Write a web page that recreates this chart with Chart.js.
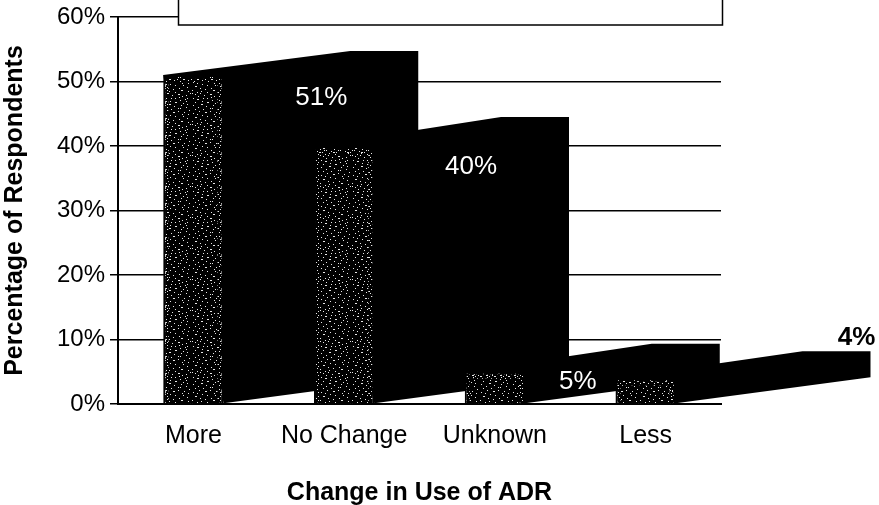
<!DOCTYPE html>
<html>
<head>
<meta charset="utf-8">
<style>
  html, body { margin: 0; padding: 0; background: #fff; }
  #wrap { position: relative; width: 879px; height: 505px; overflow: hidden; }
</style>
<script src="https://cdn.jsdelivr.net/npm/chart.js@4"></script>
</head>
<body>
<div id="wrap"><canvas id="chart" width="879" height="505"></canvas></div>
<script>
const categories = ['More', 'No Change', 'Unknown', 'Less'];
const shares = [51, 40, 5, 4];
const valueTicks = [0, 10, 20, 30, 40, 50, 60];

const FONT = '"Liberation Sans", Arial, sans-serif';

// Hand-laid irregular tiles for the stippled bar fronts: sparse body, busier rim.
const stippleRows = [
  '#.......#.....................#.',
  '...#..............##...........',
  '............#.............#....',
  '......#...............#........',
  '...................#...........',
  '.#.........#...#...........#...',
  '.....##..................#.....',
  '....................#..........',
  '..........#...............#....',
  '...#...........##..............',
  '.......................#.......',
  '.........##................#...',
  '.#...................#.........',
  '..............#................',
  '......#...................#....',
  '..................#.#..........',
  '...#.......#...................',
  '.............................#.',
  '.......#..........#............',
  '.............##.........#......',
  '.#.............................',
  '.....#................#.....#..',
  '..........#....................',
  '...............#.......#.......',
  '...##..........................',
  '...........................#...',
  '........#..........#...........',
  '.............#.................',
  '#....................##........',
  '.........#..................#..',
  '.....#.........#...............'
];
const rimRows = [
  '#......#...#..',
  '..#.......##..',
  '....##.......#',
  '...........#..',
  '.#....#.......',
  '..........#..#',
  '...#..........',
  '.......##.....',
  '#............#',
  '....#.....#...',
  '..............',
  '.##......#....',
  '......#.......',
  '............#.',
  '..#.#.........',
  '.........#....',
  '#..........##.'
];

function tilePattern(rows) {
  const tile = document.createElement('canvas');
  tile.width = rows[0].length;
  tile.height = rows.length;
  const g = tile.getContext('2d');
  g.fillStyle = '#000';
  g.fillRect(0, 0, tile.width, tile.height);
  g.fillStyle = '#e6e6e6';
  rows.forEach((row, y) => {
    [...row].forEach((c, x) => { if (c === '#') g.fillRect(x, y, 1, 1); });
  });
  return g.createPattern(tile, 'repeat');
}

const bodyPattern = tilePattern(stippleRows);
const rimPattern = tilePattern(rimRows);

// Slanted black extrusion behind each bar, derived from the bar's own geometry.
const RUN_TOP = 187;
const RUN_FULL = 255;
const topRise = [24, 29, 28, 27];
const baseRise = 26;

const extrusion = {
  id: 'extrusion',
  beforeDatasetsDraw(chart) {
    const { ctx } = chart;
    const bars = chart.getDatasetMeta(0).data;
    ctx.save();
    ctx.fillStyle = '#000';
    bars.forEach((b, i) => {
      const left = b.x - b.width / 2;
      const right = b.x + b.width / 2;
      ctx.beginPath();
      ctx.moveTo(left, b.y);
      ctx.lineTo(left + RUN_TOP, b.y - topRise[i]);
      ctx.lineTo(left + RUN_FULL, b.y - topRise[i]);
      ctx.lineTo(left + RUN_FULL, b.base - baseRise);
      ctx.lineTo(right, b.base);
      ctx.closePath();
      ctx.fill();
    });
    ctx.restore();
  }
};

// Busier stipple along the rim of each bar front, then the value labels.
const labelOffsets = [[128, 23], [127, 21], [83, 10], [211, -40]];
const labelColours = ['#fff', '#fff', '#fff', '#000'];
const barDetails = {
  id: 'barDetails',
  afterDatasetsDraw(chart) {
    const { ctx } = chart;
    const bars = chart.getDatasetMeta(0).data;
    ctx.save();
    bars.forEach(b => {
      const left = b.x - b.width / 2;
      const right = b.x + b.width / 2;
      const height = b.base - b.y;
      ctx.fillStyle = rimPattern;
      ctx.fillRect(right - 6, b.y + 3, 4, height - 4);
      ctx.fillRect(left + 2, b.y + 3, 3, height - 4);
      ctx.fillRect(left + 3, b.y + 3, b.width - 6, 4);
    });
    ctx.textAlign = 'center';
    ctx.textBaseline = 'middle';
    bars.forEach((b, i) => {
      ctx.font = (i === 3 ? 'bold ' : '') + '26px ' + FONT;
      ctx.fillStyle = labelColours[i];
      ctx.fillText(shares[i] + '%', b.x + labelOffsets[i][0], b.y + labelOffsets[i][1]);
    });
    ctx.restore();
  }
};

// Legend frame running off the top of the page.
const legendFrame = {
  id: 'legendFrame',
  afterDraw(chart) {
    const { ctx, chartArea } = chart;
    ctx.save();
    ctx.fillStyle = '#fff';
    ctx.strokeStyle = '#000';
    ctx.lineWidth = 1.5;
    ctx.beginPath();
    ctx.rect(178.5, -10, chartArea.right - 177, 35);
    ctx.fill();
    ctx.stroke();
    ctx.restore();
  }
};

new Chart(document.getElementById('chart'), {
  type: 'bar',
  data: {
    labels: categories,
    datasets: [{
      data: shares,
      backgroundColor: bodyPattern,
      borderColor: '#000',
      borderWidth: 2,
      barPercentage: 0.4,
      categoryPercentage: 1
    }]
  },
  plugins: [extrusion, barDetails, legendFrame],
  options: {
    responsive: false,
    animation: false,
    layout: { padding: { top: 17, right: 158, left: 0, bottom: 0 } },
    plugins: { legend: { display: false }, tooltip: { enabled: false } },
    scales: {
      x: {
        afterFit(scale) { scale.height = 101; },
        grid: { display: false, drawTicks: false },
        border: { color: '#000', width: 2 },
        ticks: { color: '#000', font: { family: FONT, size: 25 }, padding: 17 },
        title: {
          display: true,
          text: 'Change in Use of ADR',
          color: '#000',
          font: { family: FONT, size: 25, weight: 'bold' },
          padding: { top: 24, bottom: -3 }
        }
      },
      y: {
        min: 0,
        max: 60,
        afterFit(scale) { scale.width = 118; scale.paddingTop = 0; scale.paddingBottom = 0; },
        afterBuildTicks(scale) { scale.ticks = valueTicks.map(value => ({ value })); },
        grid: { color: '#000', lineWidth: 1.5, tickLength: 8, drawOnChartArea: true },
        border: { color: '#000', width: 2 },
        ticks: {
          color: '#000',
          font: { family: FONT, size: 24 },
          padding: 5,
          callback: v => v + '%'
        },
        title: {
          display: true,
          text: 'Percentage of Respondents',
          color: '#000',
          font: { family: FONT, size: 25, weight: 'bold' },
          padding: { top: 0, bottom: 6 }
        }
      }
    }
  }
});
</script>
</body>
</html>
